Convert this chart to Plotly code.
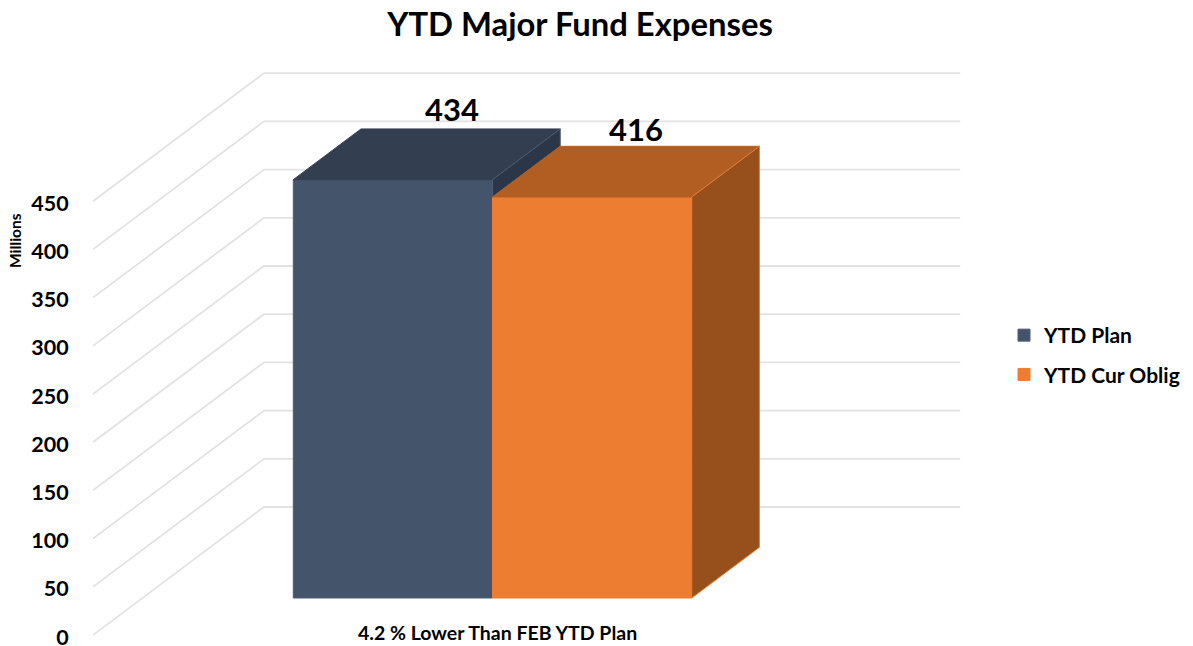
import plotly.graph_objects as go

# --- data ---
chart_title = "YTD Major Fund Expenses"
category_label = "4.2 % Lower Than FEB YTD Plan"
series_names = ["YTD Plan", "YTD Cur Oblig"]
series_values = [434, 416]
y_ticks = [0, 50, 100, 150, 200, 250, 300, 350, 400, 450]

# --- styles ---
FONT = "Lato, Carlito, sans-serif"
TEXT = "#000000"
FRONT = ["#44546A", "#ED7D31"]
TOP = ["#333F50", "#B25E22"]
SIDE = ["#2B3748", "#97501C"]
EDGE = ["#4D5D75", "#ED7D31"]
GRID = "#E2E2E2"

# --- oblique projection, expressed in axis units ---
W, H = 1193, 646
PX_PER_UNIT = 199.2       # px per bar width
PX_PER_VALUE = 0.964      # px per y value
M_L, M_R, M_T, M_B = 93, 193, 10, 1
FLOOR_Y = 635             # pixel of value 0 on the front plane
DX = 171 / PX_PER_UNIT    # shift of the whole depth in x units
DY = 128 / PX_PER_VALUE   # shift of the whole depth in y units
D0, D1 = 0.289, 0.685     # bar depth extent (fraction of floor)
GAP = 0.7575              # space left of the first bar, bar widths
WALL = 3.495              # floor width, bar widths


def proj(u, v, d):
    return u + DX * d, v + DY * d


x_range = [0, (W - M_L - M_R) / PX_PER_UNIT]
y_range = [(FLOOR_Y - (H - M_B)) / PX_PER_VALUE, (FLOOR_Y - M_T) / PX_PER_VALUE]

fig = go.Figure()

# floor-to-wall gridlines, beneath the bars
shapes = []
for t in y_ticks:
    pts = [proj(0, t, 0), proj(0, t, 1), proj(WALL, t, 1)]
    path = "M " + " L ".join(f"{x},{y}" for x, y in pts)
    shapes.append(dict(type="path", path=path, xref="x", yref="y", layer="below",
                       line=dict(color=GRID, width=1.8)))

# front faces
for i, (name, val) in enumerate(zip(series_names, series_values)):
    x0, base = proj(GAP + i, 0, D0)
    fig.add_trace(go.Bar(x=[x0 + 0.5], y=[val], base=[base], width=[1], name=name,
                         legendgroup=name, marker=dict(color=FRONT[i], line=dict(color=EDGE[i], width=1)),
                         hoverinfo="skip"))


def poly(points, fill, edge):
    xs = [p[0] for p in points] + [points[0][0]]
    ys = [p[1] for p in points] + [points[0][1]]
    fig.add_trace(go.Scatter(x=xs, y=ys, mode="lines", fill="toself", fillcolor=fill,
                             line=dict(color=edge, width=1), showlegend=False, hoverinfo="skip"))


# top faces and visible side faces
for i, val in enumerate(series_values):
    u0, u1 = GAP + i, GAP + i + 1
    poly([proj(u0, val, D0), proj(u1, val, D0), proj(u1, val, D1), proj(u0, val, D1)], TOP[i], TOP[i])
    # only the part of the side that is not hidden by the next bar
    low = series_values[i + 1] if i + 1 < len(series_values) else 0
    poly([proj(u1, low, D0), proj(u1, val, D0), proj(u1, val, D1), proj(u1, low, D1)], SIDE[i], EDGE[i])

# data labels, placed on the top face
label_depth = [0.345, 0.257]
label_lift = [66, 64]
lx, ly = [], []
for i, val in enumerate(series_values):
    x, y = proj(GAP + i + 0.5, val, D0 + label_depth[i])
    lx.append(x)
    ly.append(val + DY * D0 + label_lift[i] / PX_PER_VALUE)
fig.add_trace(go.Scatter(x=lx, y=ly, mode="text", text=[str(v) for v in series_values],
                         textposition="middle center", showlegend=False, hoverinfo="skip",
                         textfont=dict(family=FONT, size=31, color=TEXT, weight=700)))

cat_x = GAP + 1 + DX * D0 + 0.025

fig.update_layout(
    width=W, height=H,
    margin=dict(l=M_L, r=M_R, t=M_T, b=M_B, pad=0, autoexpand=False),
    paper_bgcolor="#FFFFFF", plot_bgcolor="#FFFFFF",
    barmode="overlay",
    font=dict(family=FONT, color=TEXT),
    title=dict(text=f"<b>{chart_title}</b>", x=580 / W, xref="container", xanchor="center",
               y=1 - 25 / H, yanchor="middle", font=dict(family=FONT, size=32.8, color=TEXT)),
    xaxis=dict(range=x_range, showgrid=False, zeroline=False, showline=False,
               showticklabels=False, ticks="", automargin=False),
    yaxis=dict(range=y_range, showgrid=False, zeroline=False, showline=False, automargin=False,
               tickmode="array", tickvals=y_ticks, ticktext=[f"<b>{t}</b>" for t in y_ticks],
               ticks="outside", ticklen=19, tickcolor="rgba(0,0,0,0)",
               ticklabeloverflow="allow", ticklabelshift=2,
               tickfont=dict(family=FONT, size=21.5, color=TEXT)),
    legend=dict(xref="container", yref="container", x=1004 / W, xanchor="left",
                y=1 - 355 / H, yanchor="middle", tracegroupgap=9, traceorder="grouped",
                font=dict(family=FONT, size=21, color=TEXT, weight=700), itemwidth=30,
                bgcolor="rgba(0,0,0,0)"),
    shapes=shapes,
    annotations=[
        dict(text="<b>Millions</b>", xref="paper", yref="paper", x=-78 / (W - M_L - M_R),
             y=1 - (241 - M_T) / (H - M_T - M_B), textangle=-90, showarrow=False,
             xanchor="center", yanchor="middle", font=dict(family=FONT, size=15.5, color=TEXT)),
        dict(text=f"<b>{category_label}</b>", xref="x", yref="y", x=cat_x,
             y=(FLOOR_Y - 632) / PX_PER_VALUE, showarrow=False, xanchor="center", yanchor="middle",
             font=dict(family=FONT, size=19.5, color=TEXT)),
    ],
)

fig.write_html("out.html", config={"displayModeBar": False},
               post_script="document.body.style.margin='0';document.body.style.overflow='hidden';")
